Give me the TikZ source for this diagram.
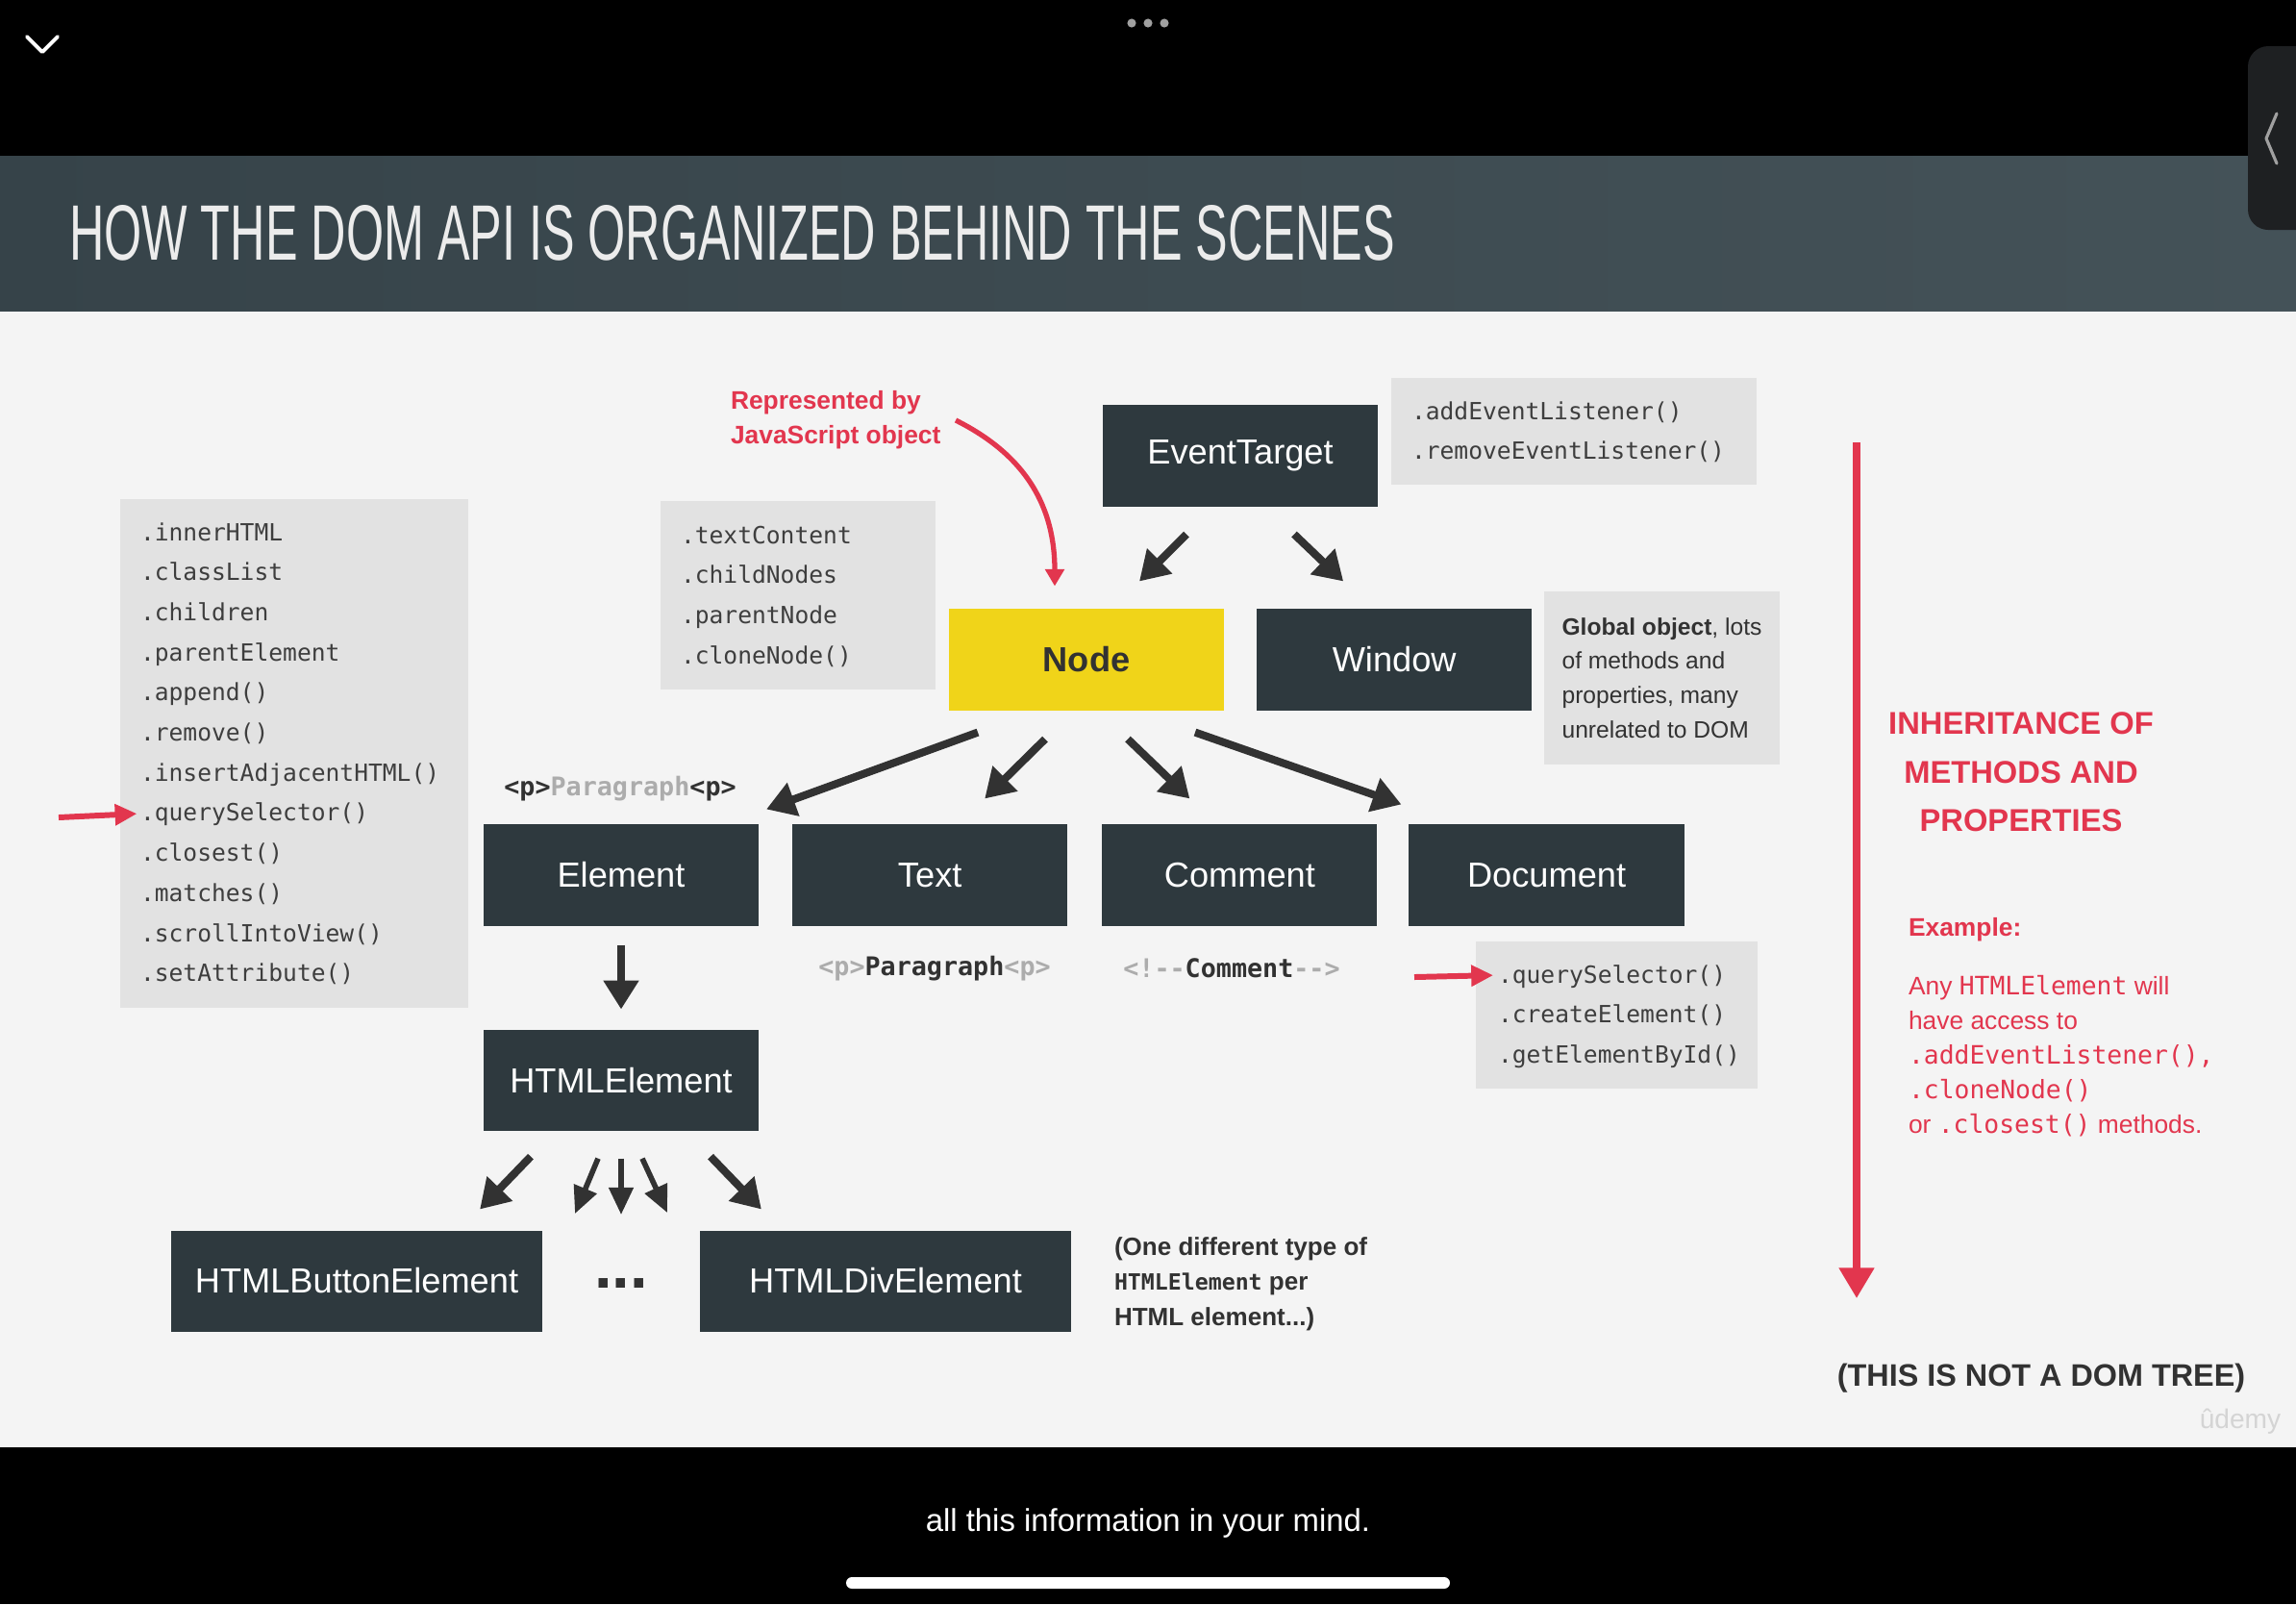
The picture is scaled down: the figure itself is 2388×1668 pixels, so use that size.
\documentclass[tikz,border=0pt]{standalone}
\usepackage{fontspec}
\setmainfont{Liberation Sans}
\setmonofont{DejaVu Sans Mono}
\usepackage{graphicx}
\usepackage{tikz}
\usetikzlibrary{arrows.meta, positioning, calc}
\definecolor{slate}{RGB}{46, 57, 62}
\definecolor{nodeyellow}{RGB}{240, 212, 25}
\definecolor{methgray}{RGB}{226, 226, 226}
\definecolor{slidebg}{RGB}{244, 244, 244}
\definecolor{accent}{RGB}{226, 54, 78}
\definecolor{ink}{RGB}{50, 50, 50}
\definecolor{codeink}{RGB}{62, 62, 62}
\definecolor{taggray}{RGB}{172, 172, 172}
\definecolor{barleft}{RGB}{54, 67, 73}
\definecolor{barright}{RGB}{68, 82, 88}
\definecolor{titlewhite}{RGB}{236, 236, 236}
\definecolor{tabgray}{RGB}{30, 32, 34}
\definecolor{dotgray}{RGB}{160, 160, 160}
\definecolor{wmgray}{RGB}{212, 212, 212}

\begin{document}
\begin{tikzpicture}[
    x=0.01cm, y=-0.01cm,
    every node/.style={font=\fontsize{7}{10.2}\selectfont, inner sep=0pt, outer sep=0pt, text=ink},
    cls/.style={rectangle, fill=slate, text=white, minimum width=2.86cm, minimum height=1.05cm, font=\fontsize{10.3}{12}\selectfont},
    clswide/.style={cls, minimum width=3.86cm},
    nodebox/.style={cls, fill=nodeyellow, text=ink, font=\bfseries\fontsize{10.3}{12}\selectfont},
    methbox/.style={rectangle, fill=methgray},
    meth/.style={anchor=west, text=codeink, text height=8.2pt, text depth=3.66pt, font=\ttfamily\fontsize{7}{8}\selectfont},
    tag/.style={font=\ttfamily\bfseries\fontsize{7.6}{9}\selectfont},
    redlbl/.style={text=accent, font=\bfseries\fontsize{7.5}{10.2}\selectfont, align=left},
    arr/.style={-{Triangle[length=8.5pt, width=10pt]}, line width=2.3pt, draw=ink},
    arrthin/.style={-{Triangle[length=8pt, width=7pt]}, line width=1.6pt, draw=ink},
    redarr/.style={-{Triangle[length=6.5pt, width=6pt]}, line width=1.7pt, draw=accent},
    bigred/.style={-{Triangle[length=9pt, width=10pt]}, line width=2.1pt, draw=accent},
    redcurve/.style={-{Triangle[length=5pt, width=5.5pt]}, line width=1.5pt, draw=accent},
]

% ── Screen ──
\useasboundingbox (0,0) rectangle (2388,1668);
\clip (0,0) rectangle (2388,1668);
\fill[black] (0,0) rectangle (2388,1668);
\fill[slidebg] (0,323) rectangle (2388,1505);
\shade[left color=barleft, right color=barright] (0,162) rectangle (2388,323);
\node[anchor=west, text=titlewhite] (title) at (72,242) {\resizebox{13.78cm}{0.57cm}{HOW THE DOM API IS ORGANIZED BEHIND THE SCENES}};
\fill[tabgray, rounded corners=6pt] (2338,48) rectangle (2440,239);
\draw[dotgray, line width=0.9pt, line cap=round, line join=round] (2368,118) -- (2357,144) -- (2368,170);
\draw[white, line width=1.1pt, line cap=round, line join=round] (28,38) -- (44,54) -- (60,38);
\fill[dotgray] (1177,24) circle (1.3pt) (1194,24) circle (1.3pt) (1211,24) circle (1.3pt);
\node[text=white, font=\fontsize{9.35}{11}\selectfont] (sub) at (1194,1584) {all this information in your mind.};
\fill[white, rounded corners=1.7pt] (880,1640) rectangle (1508,1652);
\node[text=wmgray, font=\fontsize{8}{9}\selectfont] (wm) at (2330,1478) {ûdemy};

% ── Element methods ──
\node[methbox, minimum width=3.62cm, minimum height=5.29cm] (lst) at (306,783.5) {};
\node[meth] (l1) at (146,554) {.innerHTML};
\node[meth, anchor=north west] (l2) at (l1.south west) {.classList};
\node[meth, anchor=north west] (l3) at (l2.south west) {.children};
\node[meth, anchor=north west] (l4) at (l3.south west) {.parentElement};
\node[meth, anchor=north west] (l5) at (l4.south west) {.append()};
\node[meth, anchor=north west] (l6) at (l5.south west) {.remove()};
\node[meth, anchor=north west] (l7) at (l6.south west) {.insertAdjacentHTML()};
\node[meth, anchor=north west] (l8) at (l7.south west) {.querySelector()};
\node[meth, anchor=north west] (l9) at (l8.south west) {.closest()};
\node[meth, anchor=north west] (l10) at (l9.south west) {.matches()};
\node[meth, anchor=north west] (l11) at (l10.south west) {.scrollIntoView()};
\node[meth, anchor=north west] (l12) at (l11.south west) {.setAttribute()};

% ── Node methods ──
\node[methbox, minimum width=2.86cm, minimum height=1.96cm] (ndm) at (830,619) {};
\node[meth] (n1) at (708,557) {.textContent};
\node[meth, anchor=north west] (n2) at (n1.south west) {.childNodes};
\node[meth, anchor=north west] (n3) at (n2.south west) {.parentNode};
\node[meth, anchor=north west] (n4) at (n3.south west) {.cloneNode()};

% ── EventTarget methods ──
\node[methbox, minimum width=3.80cm, minimum height=1.11cm] (etm) at (1637,448.5) {};
\node[meth] (e1) at (1468,428) {.addEventListener()};
\node[meth, anchor=north west] (e2) at (e1.south west) {.removeEventListener()};

% ── Document methods ──
\node[methbox, minimum width=2.93cm, minimum height=1.53cm] (docm) at (1681.5,1055.5) {};
\node[meth] (d1) at (1558,1014) {.querySelector()};
\node[meth, anchor=north west] (d2) at (d1.south west) {.createElement()};
\node[meth, anchor=north west] (d3) at (d2.south west) {.getElementById()};

% ── Classes ──
\node[cls] (et) at (1290,474) {EventTarget};
\node[nodebox] (nd) at (1130,686) {Node};
\node[cls, right=0.34cm of nd] (win) {Window};
\node[methbox, align=left, minimum width=2.45cm, minimum height=1.80cm] (glob) at (1728.5,705) {\textbf{Global object}, lots\\of methods and\\properties, many\\unrelated to DOM};
\node[cls] (el) at (646,910) {Element};
\node[cls, right=0.35cm of el] (tx) {Text};
\node[cls, right=0.36cm of tx] (cm) {Comment};
\node[cls, right=0.33cm of cm] (doc) {Document};
\node[cls, below=1.08cm of el] (he) {HTMLElement};
\node[clswide] (hbe) at (371,1332) {HTMLButtonElement};
\node[clswide] (hde) at (921,1332) {HTMLDivElement};
\node[font=\bfseries\fontsize{19}{19}\selectfont, anchor=base] (more) at (646,1339) {...};

% ── Tags and notes ──
\node[tag] (elTag) at (645,820) {<p>\textcolor{taggray}{Paragraph}<p>};
\node[tag] (txTag) at (972,1007) {\textcolor{taggray}{<p>}Paragraph\textcolor{taggray}{<p>}};
\node[tag] (cmTag) at (1281,1007) {\textcolor{taggray}{<!--}Comment\textcolor{taggray}{-->}};
\node[redlbl, anchor=west] (rep) at (760,437) {Represented by\\JavaScript object};
\node[anchor=west, align=left, font=\bfseries\fontsize{7.4}{10.4}\selectfont] (perNote) at (1159,1335) {(One different type of\\{\ttfamily\fontsize{6.6}{10.4}\selectfont HTMLElement} per\\HTML element...)};

% ── Right column ──
\node[align=center, text=accent, font=\bfseries\fontsize{9.3}{14.4}\selectfont] (inh) at (2102,803) {INHERITANCE OF\\METHODS AND\\PROPERTIES};
\node[anchor=west, text=accent, font=\bfseries\fontsize{7.5}{10.2}\selectfont] (exLbl) at (1985,967) {Example:};
\node[anchor=west, align=left, text=accent, font=\fontsize{7.5}{10.2}\selectfont] (exTxt) at (1985,1098) {Any \texttt{HTMLElement} will\\have access to\\\texttt{.addEventListener(),}\\\texttt{.cloneNode()}\\or \texttt{.closest()} methods.};
\node[font=\bfseries\fontsize{9.2}{11}\selectfont] (notTree) at (2123,1433) {(THIS IS NOT A DOM TREE)};

% ── Free ends ──
\coordinate (repTail) at (994,437);
\coordinate (qsTail) at (61,850);
\coordinate (dqTail) at (1471,1016);
\coordinate (inhTop) at (1931,460);
\coordinate (inhBot) at (1931,1350);

% ── Arrows ──
\draw[arr] ([shift={(-56,29)}]et.south) -- ([shift={(55,-29)}]nd.north);
\draw[arr] ([shift={(56,29)}]et.south) -- ([shift={(-53,-29)}]win.north);
\draw[arr] ([shift={(-113,23)}]nd.south) -- ([shift={(8,-16)}]el.north east);
\draw[arr] ([shift={(-43,30)}]nd.south) -- ([shift={(57,-27)}]tx.north);
\draw[arr] ([shift={(43,30)}]nd.south) -- ([shift={(-52,-27)}]cm.north);
\draw[arr] ([shift={(113,23)}]nd.south) -- ([shift={(-8,-21)}]doc.north west);
\draw[arr, shorten <=5.7pt, shorten >=6pt] (el) -- (he);
\draw[arr] ([shift={(-94,27)}]he.south) -- ([shift={(-65,-22)}]hbe.north east);
\draw[arr] ([shift={(93,27)}]he.south) -- ([shift={(64,-22)}]hde.north west);
\draw[arrthin] ([shift={(-24,29)}]he.south) -- ([shift={(-48,-67)}]more.north);
\draw[arrthin] ([shift={(0,29)}]he.south) -- ([shift={(0,-66)}]more.north);
\draw[arrthin] ([shift={(22,29)}]he.south) -- ([shift={(48,-68)}]more.north);
\draw[redcurve] (repTail) .. controls +(66,33) and +(0,-90) .. ([shift={(-33,-24)}]nd.north);
\draw[redarr, shorten >=1pt] (qsTail) -- (l8.west);
\draw[redarr, shorten >=1.4pt] (dqTail) -- (d1.west);
\draw[bigred] (inhTop) -- (inhBot);

\end{tikzpicture}
\end{document}
